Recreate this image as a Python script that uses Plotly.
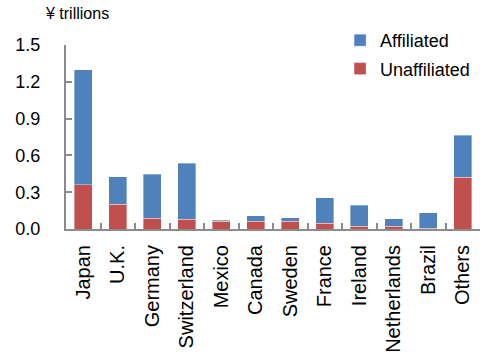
import plotly.graph_objects as go

# Foreign holdings by country, in trillions of yen
countries = ["Japan", "U.K.", "Germany", "Switzerland", "Mexico", "Canada",
             "Sweden", "France", "Ireland", "Netherlands", "Brazil", "Others"]
unaffiliated = [0.36, 0.20, 0.087, 0.08, 0.065, 0.065, 0.063, 0.046, 0.024, 0.022, 0.005, 0.42]
affiliated = [0.94, 0.224, 0.359, 0.455, 0.008, 0.045, 0.027, 0.207, 0.169, 0.062, 0.128, 0.346]
y_ticks = [0.0, 0.3, 0.6, 0.9, 1.2, 1.5]

BLUE = "#4F81BD"
RED = "#C0504D"
AXIS = "#8C8C8C"
FONT = "Liberation Sans, Arial, sans-serif"

fig = go.Figure()
fig.add_trace(go.Bar(
    x=countries, y=unaffiliated, name="Unaffiliated",
    legendgroup="u", legendrank=2,
    marker=dict(color=RED, line=dict(color="rgba(255,255,255,0.45)", width=0.8)),
    width=0.52,
))
fig.add_trace(go.Bar(
    x=countries, y=affiliated, name="Affiliated",
    legendgroup="a", legendrank=1,
    marker=dict(color=BLUE, line=dict(color="rgba(255,255,255,0.45)", width=0.8)),
    width=0.52,
))

fig.update_layout(
    barmode="stack",
    width=480, height=360,
    margin=dict(l=66, r=0, t=45, b=131),
    paper_bgcolor="white", plot_bgcolor="white",
    font=dict(family=FONT, color="#000000", size=18),
    showlegend=True,
    legend=dict(
        x=0.662, y=1.125, xanchor="left", yanchor="top",
        traceorder="grouped",
        font=dict(size=18, family=FONT),
        bgcolor="rgba(0,0,0,0)",
        tracegroupgap=2,
        itemwidth=30,
    ),
    annotations=[dict(
        text="¥ trillions", xref="paper", yref="paper",
        x=-0.055, y=1.17, xanchor="left", yanchor="middle",
        showarrow=False, font=dict(size=16, family=FONT),
    )],
)

fig.update_xaxes(
    type="category",
    showline=True, linecolor=AXIS, linewidth=2,
    ticks="inside", tickson="boundaries", ticklen=6, tickcolor=AXIS, tickwidth=1.5,
    tickangle=-90, tickfont=dict(size=20, family=FONT),
    showgrid=False, zeroline=False,
    ticklabelstandoff=6,
)
fig.update_yaxes(
    range=[0, 1.5],
    tickvals=y_ticks, tickformat=".1f",
    showline=True, linecolor=AXIS, linewidth=2,
    ticks="inside", ticklen=6, tickcolor=AXIS, tickwidth=1.5,
    tickfont=dict(size=18, family=FONT),
    showgrid=False, zeroline=False,
    ticklabelstandoff=20,
)

fig.write_html("out.html")
